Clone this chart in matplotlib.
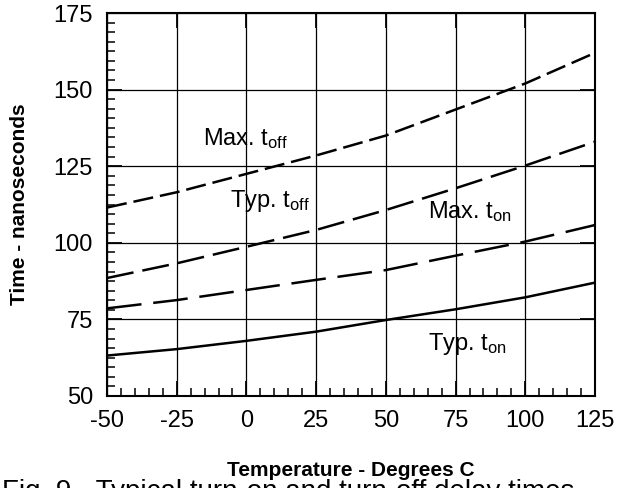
import numpy as np
import matplotlib
matplotlib.use("Agg")
import matplotlib.pyplot as plt
from matplotlib.ticker import MultipleLocator

plt.rcParams['font.family'] = ['Liberation Sans', 'DejaVu Sans']
plt.rcParams['mathtext.default'] = 'regular'
plt.rcParams['lines.scale_dashes'] = False
plt.rcParams['axes.unicode_minus'] = False

temp = [-50, -25, 0, 25, 50, 75, 100, 125]
max_toff = [111.5, 116.5, 122.5, 128.5, 135.0, 143.5, 152.0, 162.0]
typ_toff = [88.5, 93.3, 98.7, 104.2, 110.7, 117.8, 125.2, 133.0]
max_ton = [78.6, 81.3, 84.6, 87.9, 91.1, 95.8, 100.4, 105.8]
typ_ton = [63.2, 65.3, 68.0, 71.0, 74.8, 78.3, 82.2, 87.0]

x_ticks = [-50, -25, 0, 25, 50, 75, 100, 125]
y_ticks = [50, 75, 100, 125, 150, 175]

fig = plt.figure(figsize=(6.17, 4.88), dpi=100)
ax = fig.add_axes([107/617, 1-396/488, (595-107)/617, (396-13)/488])

lw = 1.8
ax.plot(temp, max_toff, color="black", lw=lw, dashes=(14.5, 5))
ax.plot(temp, typ_toff, color="black", lw=lw, dashes=(19.5, 6.5))
ax.plot(temp, max_ton, color="black", lw=lw, dashes=(25, 8.5))
ax.plot(temp, typ_ton, color="black", lw=lw)

ax.set_xlim(-50, 125)
ax.set_ylim(50, 175)
ax.set_xticks(x_ticks)
ax.set_yticks(y_ticks)
ax.xaxis.set_minor_locator(MultipleLocator(5))
ax.yaxis.set_minor_locator(MultipleLocator(3.125))
ax.grid(True, which="major", color="black", lw=0.9)
ax.set_axisbelow(True)

ax.tick_params(which="major", direction="in", length=11, width=1.3,
               top=True, right=True, labelsize=17, pad=10, colors="black")
ax.tick_params(which="minor", direction="in", length=5.5, width=1.1,
               top=False, right=False)
for s in ax.spines.values():
    s.set_linewidth(1.5)

ax.set_xlabel("Temperature - Degrees C", fontsize=15, fontweight="bold")
ax.xaxis.set_label_coords(0.5, -0.17)
ax.set_ylabel("Time - nanoseconds", fontsize=15, fontweight="bold")
ax.yaxis.set_label_coords(-0.16, 0.5)

# Kurvenbeschriftungen
ax.text(-15.6, 131.9, "Max. t$_{off}$", fontsize=17, ha="left", va="baseline")
ax.text(-5.9, 111.7, "Typ. t$_{off}$", fontsize=17, ha="left", va="baseline")
ax.text(65.1, 108.1, "Max. t$_{on}$", fontsize=17, ha="left", va="baseline")
ax.text(65.1, 65.0, "Typ. t$_{on}$", fontsize=17, ha="left", va="baseline")

# abgeschnittene Bildunterschrift
fig.text(0.003, 1-479/488, "Fig. 9 - Typical turn-on and turn-off delay times",
         fontsize=20, ha="left", va="top")

fig.savefig("out.png", dpi=100)
